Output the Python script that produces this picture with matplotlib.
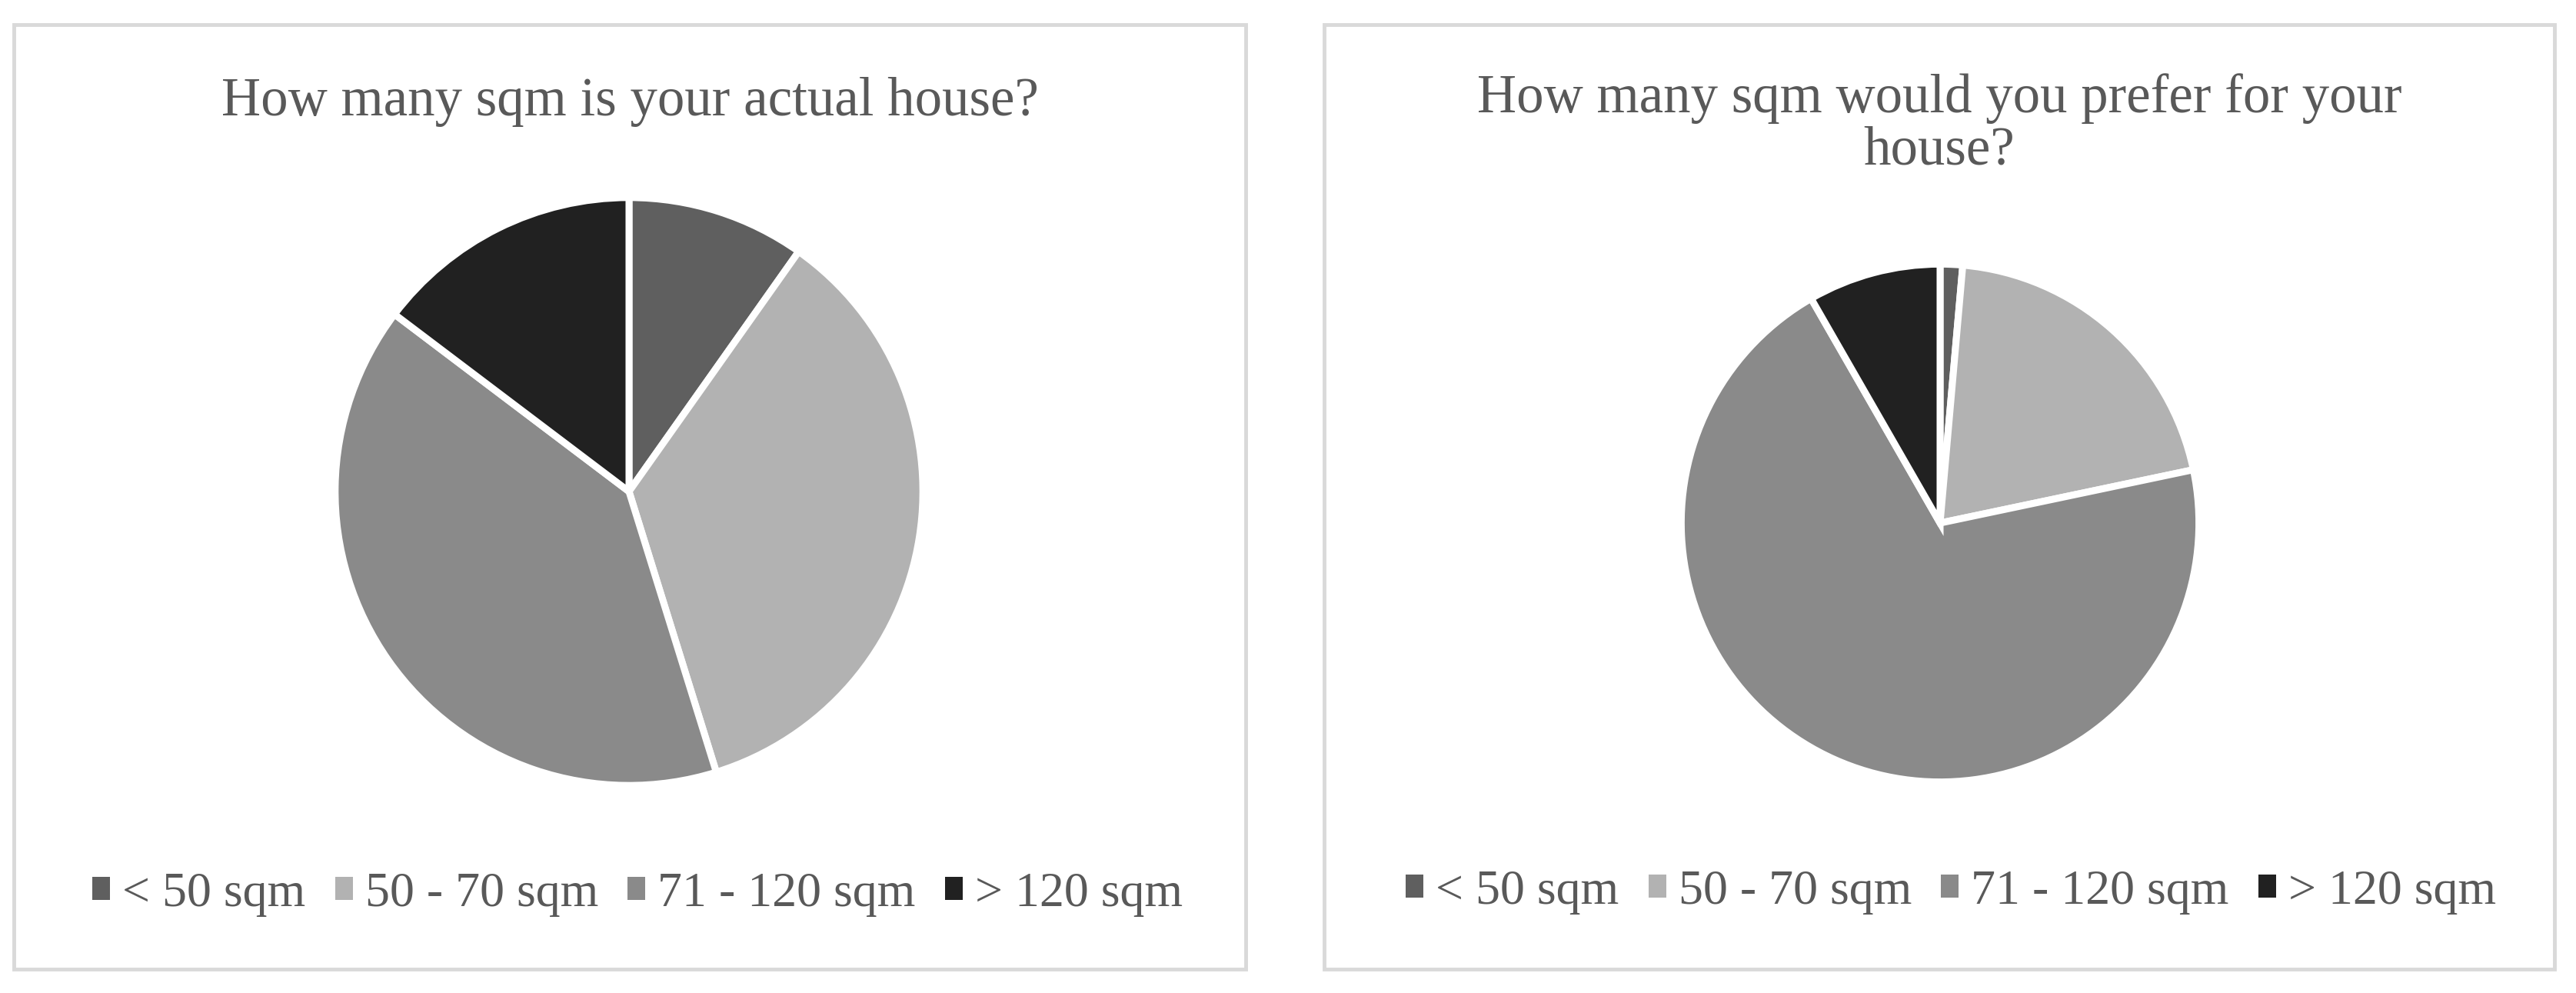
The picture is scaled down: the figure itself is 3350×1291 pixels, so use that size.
import matplotlib.pyplot as plt
from matplotlib.patches import Patch, Rectangle

plt.rcParams['font.family'] = ['Liberation Serif', 'DejaVu Serif']

# data (percent of answers)
categories = ['< 50 sqm', '50 - 70 sqm', '71 - 120 sqm', '> 120 sqm']
actual = [9.8, 35.4, 40.1, 14.7]
preferred = [1.4, 20.3, 70.0, 8.3]
colors = ['#5f5f5f', '#b2b2b2', '#8a8a8a', '#212121']

title_left = 'How many sqm is your actual house?'
title_right = 'How many sqm would you prefer for your\nhouse?'

W, H = 3350, 1291
txt_color = '#595959'

fig = plt.figure(figsize=(W / 100, H / 100), dpi=100)


def px(x, y):
    # pixel (from top-left) -> figure fraction
    return x / W, 1 - y / H


# panel frames
for x0, x1 in [(18, 1620), (1722, 3322)]:
    fig.patches.append(Rectangle(px(x0, 1260), (x1 - x0) / W, 1228 / H,
                                 transform=fig.transFigure, facecolor='none',
                                 edgecolor='#d9d9d9', linewidth=3.5, zorder=-1))


def draw_pie(values, cx, cy, r):
    ax = fig.add_axes([(cx - r) / W, 1 - (cy + r) / H, 2 * r / W, 2 * r / H])
    ax.pie(values, colors=colors, startangle=90, counterclock=False,
           wedgeprops=dict(edgecolor='white', linewidth=6.5))
    ax.set_xlim(-1.01, 1.01)
    ax.set_ylim(-1.01, 1.01)
    ax.set_aspect('equal')
    return ax


draw_pie(actual, 818, 639, 386)
draw_pie(preferred, 2523, 680, 340)

# titles
fig.text(*px(819, 150), title_left, ha='center', va='baseline',
         fontsize=51, color=txt_color)
fig.text(*px(2522, 214), title_right, ha='center', va='baseline',
         fontsize=51, color=txt_color, linespacing=1.06, multialignment='center')

# legends
handles = [Patch(facecolor=c, edgecolor='none') for c in colors]
for cx, cy in [(829, 1163), (2537, 1160)]:
    fig.legend(handles, categories, loc='center', bbox_to_anchor=px(cx, cy),
               ncol=4, frameon=False, fontsize=46, labelcolor=txt_color,
               handlelength=0.36, handleheight=0.36, handletextpad=0.25,
               columnspacing=0.6, borderpad=0, borderaxespad=0)

fig.savefig('out.png', dpi=100, facecolor='white')
